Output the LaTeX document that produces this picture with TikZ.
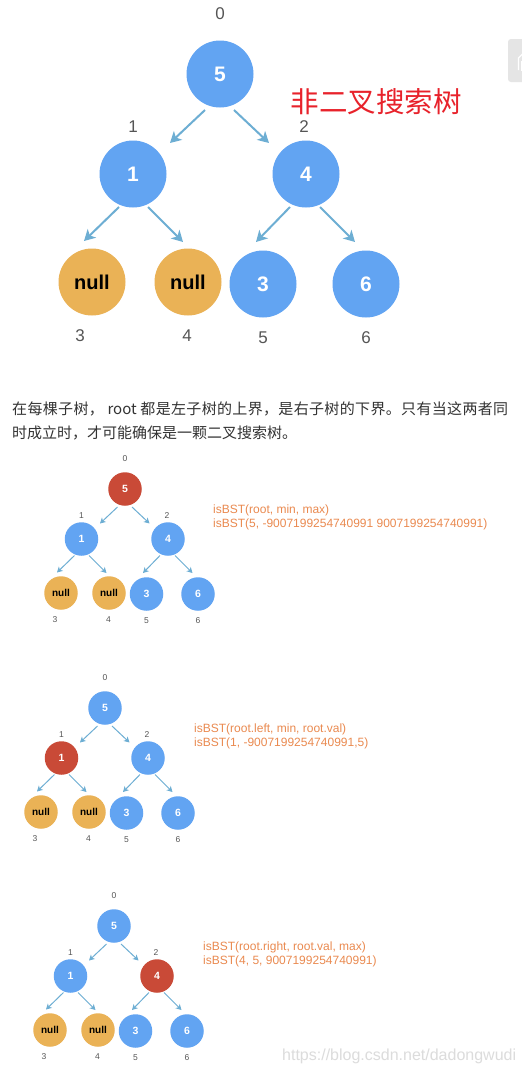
\documentclass[tikz,border=0pt]{standalone}
\usepackage{fontspec}
\setmainfont{Liberation Sans}
\newfontfamily\cjk{Noto Sans CJK SC}
\usetikzlibrary{arrows.meta}
\definecolor{nblue}{HTML}{62A4F2}
\definecolor{norange}{HTML}{EAB256}
\definecolor{nred}{HTML}{C94A37}
\definecolor{arrowc}{HTML}{6DAED3}
\definecolor{lgray}{HTML}{555555}
\definecolor{txtc}{HTML}{333333}
\definecolor{redt}{HTML}{E8222B}
\definecolor{oranget}{HTML}{EA8A50}
\definecolor{tabgray}{HTML}{E5E5E5}
\definecolor{wmark}{HTML}{DCDCDC}
\tikzset{
  tn/.style={circle, minimum size=67pt, inner sep=0pt, outer sep=0pt},
  bnode/.style={tn, fill=nblue, text=white, font=\fontsize{21}{24}\selectfont\bfseries},
  rnode/.style={tn, fill=nred, text=white, font=\fontsize{21}{24}\selectfont\bfseries},
  onode/.style={tn, fill=norange, text=black, font=\fontsize{20}{24}\selectfont\bfseries},
  lbl/.style={font=\fontsize{17}{20}\selectfont, text=lgray, inner sep=0pt},
  callt/.style={font=\fontsize{12}{14}\selectfont, text=oranget, anchor=base west, inner sep=0pt},
  cjkline/.style={font=\cjk\fontsize{15}{18}\selectfont, text=txtc, anchor=base west, inner sep=0pt},
}
\def\j{\hskip 0pt plus 1fil\relax}
% #1 prefix, #2 x, #3 y, #4 scale, #5 root style, #6 left style, #7 right style
\newcommand\bsttree[7]{%
  \pgfmathsetmacro\tlw{#4*2}%
  \begin{scope}[shift={(#2,#3)}, scale=#4, transform shape,
    tedge/.style={draw=arrowc, line width=\tlw pt,
      -{Stealth[length=11pt,width=12pt,inset=3pt,scale=#4]}}]
    \node[#5] (#1r) at (0,0) {5};
    \node[#6] (#1n1) at (-87,100) {1};
    \node[#7] (#1n2) at (86,100) {4};
    \node[onode] (#1a) at (-128,208) {null};
    \node[onode] (#1b) at (-32,208) {null};
    \node[bnode] (#1c) at (43,210) {3};
    \node[bnode] (#1d) at (146,210) {6};
    \node[lbl] (#1l0) at (0,-60) {0};
    \node[lbl] (#1l1) at (-87,53) {1};
    \node[lbl] (#1l2) at (84,53) {2};
    \node[lbl] (#1l3) at (-140,262) {3};
    \node[lbl] (#1l4) at (-33,262) {4};
    \node[lbl] (#1l5) at (43,264) {5};
    \node[lbl] (#1l6) at (146,264) {6};
    \draw[tedge] ([shift={(-15,36)}]#1r.center) -- ([shift={(37,-31)}]#1n1.center);
    \draw[tedge] ([shift={(14,36)}]#1r.center) -- ([shift={(-37,-31)}]#1n2.center);
    \draw[tedge] ([shift={(-14,33)}]#1n1.center) -- ([shift={(-8,-41)}]#1a.center);
    \draw[tedge] ([shift={(15,33)}]#1n1.center) -- ([shift={(-5,-40)}]#1b.center);
    \draw[tedge] ([shift={(-16,33)}]#1n2.center) -- ([shift={(-7,-42)}]#1c.center);
    \draw[tedge] ([shift={(14,33)}]#1n2.center) -- ([shift={(-11,-42)}]#1d.center);
  \end{scope}}
\begin{document}
\begin{tikzpicture}[x=1pt, y=-1pt]
  \useasboundingbox (0,0) rectangle (522,1072);
  \fill[white] (0,0) rectangle (522,1072);
  % side tab
  \fill[tabgray, rounded corners=3pt] (508,39) rectangle (540,82);
  \draw[white, line width=1.3pt, line join=round] (518.5,70) -- (518.5,58) -- (523,53.5) -- (530,53.5);
  \draw[white, line width=1.3pt] (521.5,62) rectangle (526,70);
  % main tree
  \bsttree{t0}{220}{74}{1}{bnode}{bnode}{bnode}
  \node[font=\cjk\fontsize{28.5}{32}\selectfont, text=redt, anchor=base west, inner sep=0pt] (title) at (290.5,112) {非二叉搜索树};
  % paragraph
  \node[cjkline] (p1) at (12,414.5) {\hbox to 496pt{在\j 每\j 棵\j 子\j 树\j ，\j\ root\ \j 都\j 是\j 左\j 子\j 树\j 的\j 上\j 界\j ，\j 是\j 右\j 子\j 树\j 的\j 下\j 界\j 。\j 只\j 有\j 当\j 这\j 两\j 者\j 同}};
  \node[cjkline] (p2) at (12,438.5) {时成立时，才可能确保是一颗二叉搜索树。};
  % tree 1
  \bsttree{t1}{125}{489}{0.5}{rnode}{bnode}{bnode}
  \node[callt] (c1a) at (213,513) {isBST(root, min, max)};
  \node[callt] (c1b) at (213,527.5) {isBST(5, -9007199254740991 9007199254740991)};
  % tree 2
  \bsttree{t2}{105}{708}{0.5}{bnode}{rnode}{bnode}
  \node[callt] (c2a) at (194,732.5) {isBST(root.left, min, root.val)};
  \node[callt] (c2b) at (194,746) {isBST(1, -9007199254740991,5)};
  % tree 3
  \bsttree{t3}{114}{926}{0.5}{bnode}{bnode}{rnode}
  \node[callt] (c3a) at (203,950.3) {isBST(root.right, root.val, max)};
  \node[callt] (c3b) at (203,964.3) {isBST(4, 5, 9007199254740991)};
  % watermark
  \node[font=\fontsize{16}{18}\selectfont, text=wmark, anchor=base west, inner sep=0pt] (wm) at (282,1060) {https://blog.csdn.net/dadongwudi};
\end{tikzpicture}
\end{document}
